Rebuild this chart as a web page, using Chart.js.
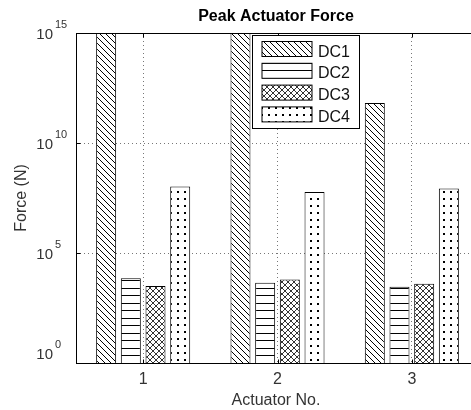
<!DOCTYPE html>
<html>
<head>
<meta charset="utf-8">
<script src="https://cdn.jsdelivr.net/npm/chart.js@4/dist/chart.umd.min.js"></script>
<style>
html, body { margin: 0; padding: 0; background: #fff; overflow: hidden; }
#c { display: block; }
</style>
</head>
<body>
<canvas id="c" width="480" height="410" style="width:480px;height:410px"></canvas>
<script>
// data (log axis, Force in N)
const categories = ["1", "2", "3"];
const seriesNames = ["DC1", "DC2", "DC3", "DC4"];
const dc1 = [3e15, 3e15, 6.5e11];   // first two run past the top of the axis
const dc2 = [7.2e3, 4.4e3, 2.9e3];
const dc3 = [3.2e3, 6.3e3, 4.0e3];
const dc4 = [1.05e8, 6.0e7, 8.5e7];
const yTicks = [1, 1e5, 1e10, 1e15];
const yTickExp = ["0", "5", "10", "15"];

const FONT = "'Liberation Sans', Arial, sans-serif";
Chart.defaults.font.family = FONT;

function makePattern(w, h, draw) {
    const c = document.createElement("canvas");
    c.width = w;
    c.height = h;
    const g = c.getContext("2d");
    g.fillStyle = "#fff";
    g.fillRect(0, 0, w, h);
    g.strokeStyle = "#000";
    g.fillStyle = "#000";
    g.lineWidth = 1;
    draw(g, w, h);
    return g.createPattern(c, "repeat");
}

function diag(g, s, back) {
    g.beginPath();
    if (back) {
        g.moveTo(-1, -1); g.lineTo(s + 1, s + 1);
        g.moveTo(-1, s - 1); g.lineTo(1, s + 1);
        g.moveTo(s - 1, -1); g.lineTo(s + 1, 1);
    } else {
        g.moveTo(-1, s + 1); g.lineTo(s + 1, -1);
        g.moveTo(-1, 1); g.lineTo(1, -1);
        g.moveTo(s - 1, s + 1); g.lineTo(s + 1, s - 1);
    }
    g.stroke();
}

const patterns = [
    makePattern(6, 6, (g, w) => diag(g, w, true)),
    makePattern(4, 15, (g) => { g.fillRect(0, 3, 4, 1); g.fillRect(0, 10, 4, 1); }),
    makePattern(6, 6, (g, w) => { g.strokeStyle = "#333"; diag(g, w, true); diag(g, w, false); }),
    makePattern(7, 7, (g) => { g.fillRect(2, 2, 2, 2); })
];

const seriesValues = [dc1, dc2, dc3, dc4];

const decor = {
    id: "decor",
    afterDraw(chart) {
        const { ctx, chartArea: a, scales: { x, y } } = chart;
        const L = Math.round(a.left) + 0.5;
        const T = Math.round(a.top) + 0.5;
        const B = Math.round(a.bottom) + 0.5;
        const R = Math.round(a.right) + 0.5;
        ctx.save();

        // axes box and inner ticks
        ctx.strokeStyle = "#000";
        ctx.lineWidth = 1;
        ctx.strokeRect(L, T, R - L, B - T);
        ctx.beginPath();
        yTicks.forEach(v => {
            const py = Math.round(y.getPixelForValue(v)) + 0.5;
            ctx.moveTo(L, py); ctx.lineTo(L + 4, py);
        });
        categories.forEach((c, i) => {
            const px = Math.round(x.getPixelForValue(i)) + 0.5;
            ctx.moveTo(px, B); ctx.lineTo(px, B - 4);
            ctx.moveTo(px, T); ctx.lineTo(px, T + 4);
        });
        ctx.stroke();

        // y tick labels 10^n
        ctx.fillStyle = "#333";
        yTicks.forEach((v, i) => {
            const ty = Math.min(y.getPixelForValue(v), a.bottom - 10);
            ctx.font = "15px " + FONT;
            ctx.textAlign = "right";
            ctx.textBaseline = "alphabetic";
            ctx.fillText("10", 53, ty + 5.5);
            ctx.font = "11px " + FONT;
            ctx.textAlign = "left";
            ctx.fillText(yTickExp[i], 55, ty - 5);
        });

        // x tick labels
        ctx.font = "16px " + FONT;
        ctx.textAlign = "center";
        categories.forEach((c, i) => {
            ctx.fillText(c, x.getPixelForValue(i), 383.5);
        });

        const cx = (a.left + a.right) / 2 - 1.5;
        ctx.font = "16px " + FONT;
        ctx.fillText("Actuator No.", cx, 405);

        ctx.save();
        ctx.translate(26, (a.top + a.bottom) / 2);
        ctx.rotate(-Math.PI / 2);
        ctx.fillText("Force (N)", 0, 0);
        ctx.restore();

        // title
        ctx.fillStyle = "#000";
        ctx.font = "bold 16px " + FONT;
        ctx.fillText("Peak Actuator Force", cx, 21);

        // legend inside the axes
        const lx = Math.round(a.left) + 176.5;
        const ly = T + 2;
        ctx.fillStyle = "#fff";
        ctx.fillRect(lx, ly, 107, 93);
        ctx.strokeRect(lx, ly, 107, 93);
        chart.data.datasets.forEach((ds, i) => {
            const sy = 41.5 + i * 21.8;
            const sx = lx + 9.5;
            ctx.fillStyle = ds.backgroundColor;
            ctx.fillRect(sx, sy, 50, 15);
            ctx.strokeRect(sx, sy, 50, 15);
            ctx.fillStyle = "#111";
            ctx.font = "16px " + FONT;
            ctx.textAlign = "left";
            ctx.fillText(ds.label, 318, sy + 15);
        });
        ctx.restore();
    }
};

new Chart(document.getElementById("c"), {
    type: "bar",
    data: {
        labels: categories,
        datasets: seriesNames.map((name, i) => ({
            label: name,
            data: seriesValues[i],
            backgroundColor: patterns[i],
            borderColor: "#000",
            borderWidth: 1,
            clip: 0
        }))
    },
    options: {
        responsive: false,
        animation: false,
        layout: { padding: { left: 76, right: 1, top: 33, bottom: 47 } },
        datasets: { bar: { categoryPercentage: 0.735, barPercentage: 0.81 } },
        plugins: {
            legend: { display: false },
            title: { display: false },
            tooltip: { enabled: false }
        },
        scales: {
            x: {
                offset: true,
                grid: { offset: false, drawTicks: false, color: "#777" },
                border: { display: false, dash: [1, 3] },
                ticks: { display: false }
            },
            y: {
                type: "logarithmic",
                min: 1,
                max: 1e15,
                afterBuildTicks: s => { s.ticks = yTicks.map(v => ({ value: v })); },
                grid: {
                    drawTicks: false,
                    color: c => (c.tick && (c.tick.value === 1 || c.tick.value === 1e15)) ? "rgba(0,0,0,0)" : "#777"
                },
                border: { display: false, dash: [1, 3] },
                ticks: { display: false }
            }
        }
    },
    plugins: [decor]
});
</script>
</body>
</html>
